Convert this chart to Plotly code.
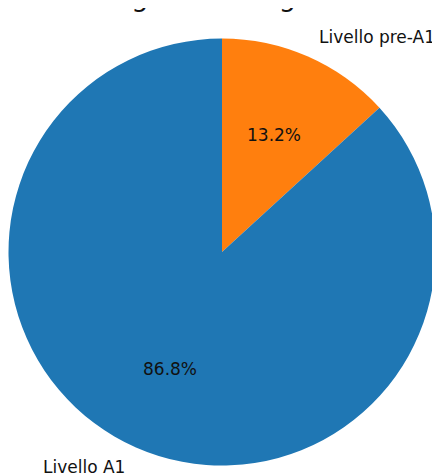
import math
import plotly.graph_objects as go

# Data
labels = ["Livello A1", "Livello pre-A1"]
values = [86.8, 13.2]
colors = ["#1f77b4", "#ff7f0e"]
title_text = "Livello linguistico degli studenti"

# page has an 8px body margin, so the figure is sized to fit inside the window
W, H = 432, 467
cx, cy, r = 214.0, 244.0, 213.5

fig = go.Figure()

# Title, clipped by an invisible full-size axis so only its descenders show (as in the reference)
fig.add_trace(go.Scatter(
    x=[209], y=[-9], mode="text", text=[title_text], textposition="middle center",
    textfont=dict(family="DejaVu Sans", size=27, color="#111111"),
    cliponaxis=True, hoverinfo="skip", showlegend=False,
))

fig.add_trace(go.Pie(
    labels=labels[::-1],
    values=values[::-1],
    marker=dict(colors=colors[::-1], line=dict(width=0)),
    textinfo="none",
    sort=False,
    direction="clockwise",
    rotation=0,
    hoverinfo="label+percent",
    showlegend=False,
    domain=dict(x=[(cx - r) / W, (cx + r) / W], y=[1 - (cy + r) / H, 1 - (cy - r) / H]),
))

font = dict(family="DejaVu Sans", size=17, color="#111111")
total = sum(values)
cum = 0.0
annotations = []
for lab, v in zip(labels, values):
    frac = v / total
    mid = math.radians(90 + 360 * (cum + frac / 2))
    cum += frac
    c, s = math.cos(mid), math.sin(mid)
    # percentage at 0.6 r
    annotations.append(dict(
        x=(cx + 0.6 * r * c) / W, y=1 - (cy - 0.6 * r * s) / H,
        xref="paper", yref="paper", text=f"{100 * frac:.1f}%",
        showarrow=False, xanchor="center", yanchor="middle", font=font))
    # label at 1.1 r
    annotations.append(dict(
        x=(cx + 1.1 * r * c) / W, y=1 - (cy - 1.1 * r * s) / H,
        xref="paper", yref="paper", text=lab,
        showarrow=False, xanchor="left" if c > 0 else "right", yanchor="middle", font=font))

fig.update_layout(
    width=W, height=H,
    margin=dict(l=0, r=0, t=0, b=0),
    paper_bgcolor="white", plot_bgcolor="rgba(0,0,0,0)",
    annotations=annotations,
    xaxis=dict(visible=False, range=[0, W], domain=[0, 1], fixedrange=True),
    yaxis=dict(visible=False, range=[H, 0], domain=[0, 1], fixedrange=True),
)

fig.write_html("out.html")
